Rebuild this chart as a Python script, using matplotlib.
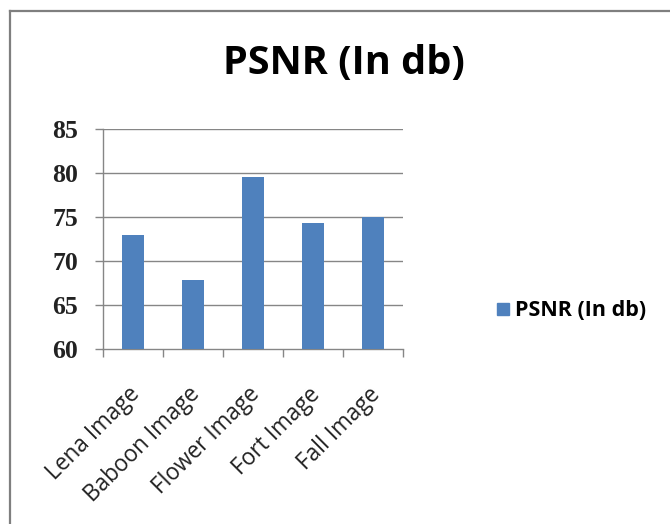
import matplotlib
matplotlib.use("Agg")
import matplotlib.pyplot as plt
from matplotlib.lines import Line2D
from matplotlib.transforms import ScaledTranslation

categories = ["Lena Image", "Baboon Image", "Flower Image", "Fort Image", "Fall Image"]
psnr_values = [73.0, 67.8, 79.5, 74.3, 74.95]
y_ticks = [60, 65, 70, 75, 80, 85]
series_name = "PSNR (In db)"
title = "PSNR (In db)"

W, H = 670, 524
fig = plt.figure(figsize=(W / 100, H / 100), dpi=100)
fig.patch.set_facecolor("white")

ax = fig.add_axes([103 / W, 1 - 349 / H, 300 / W, 220 / H])
x = list(range(len(categories)))
bar_color = "#4F81BD"
grid_color = "#868686"

ax.bar(x, psnr_values, width=0.37, color=bar_color, zorder=3, label=series_name)
ax.set_xlim(-0.5, len(categories) - 0.5)
ax.set_ylim(60, 85)
ax.set_yticks(y_ticks)
ax.set_yticklabels([str(t) for t in y_ticks], family="Liberation Serif", weight="bold",
                   fontsize=18.5, color="#222222")
for t in y_ticks[1:]:
    ax.axhline(t, color=grid_color, lw=1.0, zorder=1)

ax.set_xticks(x)
ax.set_xticklabels(categories, rotation=45, ha="right", va="top", rotation_mode="anchor",
                   family="Open Sans", fontsize=16.3, color="#222222")
ax.set_xticks([i - 0.5 for i in range(len(categories) + 1)], minor=True)
ax.tick_params(axis="x", which="major", length=0, pad=22)
ax.tick_params(axis="x", which="minor", length=6, direction="out", color=grid_color, width=1)
ax.tick_params(axis="y", length=6, direction="out", color=grid_color, width=1, pad=12)
offset = ScaledTranslation(-5 / 100, -3 / 100, fig.dpi_scale_trans)
for lbl in ax.get_xticklabels():
    lbl.set_transform(lbl.get_transform() + offset)

for s in ["top", "right"]:
    ax.spines[s].set_visible(False)
for s in ["left", "bottom"]:
    ax.spines[s].set_color(grid_color)
    ax.spines[s].set_linewidth(1.0)

fig.text(344 / W, 1 - 64 / H, title, ha="center", va="center", family="Open Sans",
         weight="bold", fontsize=28.5, color="black")

handle = Line2D([], [], marker="s", linestyle="none", markersize=8,
                markerfacecolor=bar_color, markeredgecolor=bar_color)
fig.legend([handle], [series_name], loc="center left",
           bbox_to_anchor=(476 / W, 1 - 311 / H), frameon=False,
           prop={"family": "Open Sans", "weight": "bold", "size": 15.5},
           handlelength=0.7, handletextpad=0.2)

# outer border (top and left visible)
fig.add_artist(Line2D([9.5 / W, 1.0], [1 - 10.5 / H, 1 - 10.5 / H], color="#7f7f7f", lw=1.6,
                      transform=fig.transFigure))
fig.add_artist(Line2D([9.5 / W, 9.5 / W], [0, 1 - 10.5 / H], color="#7f7f7f", lw=1.6,
                      transform=fig.transFigure))

fig.savefig("out.png", dpi=100)
